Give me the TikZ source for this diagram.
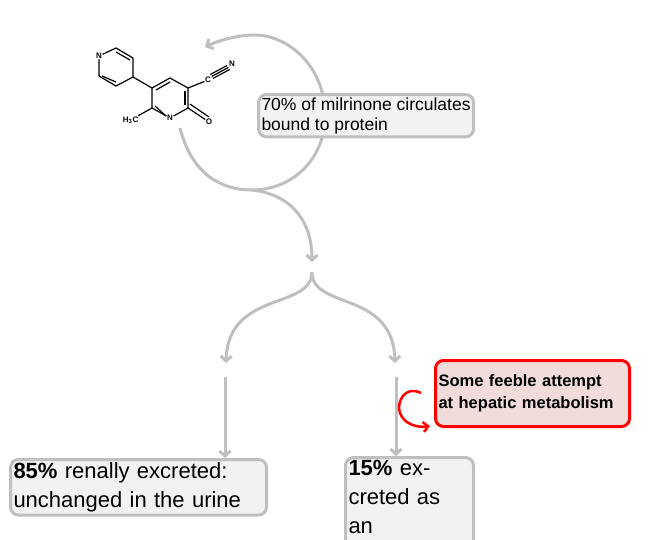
\documentclass[tikz,border=0pt]{standalone}
\usepackage{fontspec}
\setmainfont{Liberation Sans}
\usetikzlibrary{arrows.meta,calc}
\definecolor{lg}{RGB}{191,191,191}
\definecolor{bx}{RGB}{242,242,242}
\definecolor{pk}{RGB}{242,220,219}
\begin{document}
\begin{tikzpicture}[x=1pt,y=-1pt,
  conn/.style={draw=lg,line width=3pt,-{Straight Barb[length=5pt,width=11pt]}},
  gbox/.style={draw=lg,fill=bx,line width=3pt,rounded corners=8pt,align=left,inner sep=3pt,anchor=north west},
  bond/.style={line width=1.2pt},
  atom/.style={inner sep=0.5pt,font=\fontsize{8}{8}\selectfont\bfseries}]
\useasboundingbox (0,0) rectangle (648,539);
% molecule
\coordinate (a1) at (170,78); \coordinate (a2) at (188,88); \coordinate (a3) at (188,108);
\node[atom] (N1) at (170,118) {N}; \coordinate (a6) at (152,108); \coordinate (a5) at (152,88);
\draw[bond] (a5)--(a1)--(a2)--(a3)--(N1)--(a6)--(a5);
\draw[bond] ($(a1)+(0,4)$)--($(a5)+(4,2)$);
\draw[bond] ($(a2)+(-3,3)$)--($(a3)+(-3,-3)$);
\draw[bond] ($(a6)+(3,-2)$)--($(N1)+(-4,-2)$);
\node[atom,anchor=east] (me) at (139,120) {H\textsubscript{3}C};
\draw[bond] (a6)--(me);
\node[atom] (O) at (209,122) {O};
\draw[bond] (a3)--(O); \draw[bond] ($(a3)+(2,-4)$)--($(O)+(0,-5)$);
\node[atom] (C) at (208,80) {C}; \node[atom] (Nc) at (232,64) {N};
\draw[bond] (a2)--(C);
\draw[bond] (C.north east)--(Nc.south west);
\draw[bond] ($(C.north east)+(-1.3,-2)$)--($(Nc.south west)+(-1.3,-2)$);
\draw[bond] ($(C.north east)+(1.3,2)$)--($(Nc.south west)+(1.3,2)$);
\coordinate (p1) at (133,77); \coordinate (p2) at (133,58); \coordinate (p3) at (116,48);
\node[atom] (Np) at (99,56) {N}; \coordinate (p5) at (99,76); \coordinate (p6) at (116,86);
\draw[bond] (p1)--(p2)--(p3)--(Np)--(p5)--(p6)--(p1);
\draw[bond] ($(p2)+(-3,2)$)--($(p3)+(0,4)$);
\draw[bond] ($(p5)+(3,0)$)--($(p6)+(0,-4)$);
\draw[bond] (p1)--(a5);
% arrows
\coordinate (s0) at (180,128); \coordinate (bt) at (252,190); \coordinate (e0) at (205,47);
\draw[conn] (s0) .. controls (192,175) and (222,190) .. (bt) .. controls (295,190) and (328,155) .. (325,110) .. controls (322,62) and (285,35) .. (255,35) .. controls (235,35) and (215,42) .. (e0);
\coordinate (m1) at (312,262); \coordinate (m2) at (312,272);
\draw[conn] (bt) .. controls (295,195) and (312,225) .. (m1);
\coordinate (l1) at (226,363); \coordinate (r1) at (395,363);
\draw[conn] (m2) .. controls (312,310) and (228,290) .. (l1);
\draw[conn] (m2) .. controls (312,310) and (393,290) .. (r1);
% boxes
\node[gbox,font=\fontsize{17.5}{20}\selectfont,minimum width=210pt] (tb) at (257,93) {70\% of milrinone circulates\\bound to protein};
\node[gbox,font=\fontsize{22}{29}\selectfont,text width=250pt] (lb) at (9,458) {\textbf{85\%} renally excreted:\\unchanged in the urine};
\node[gbox,font=\fontsize{22}{29}\selectfont,text width=122pt] (rb) at (344,456) {\textbf{15\%} excreted as an\\\hspace{4pt}inactive o-glucouronide};
\node[gbox,draw=red,fill=pk,font=\fontsize{16.5}{22}\selectfont\bfseries,text width=188pt,minimum height=66pt] (hb) at (434,359) {Some feeble attempt\\at hepatic metabolism};
\coordinate (l2) at (225,377); \coordinate (r2) at (396,377);
\draw[conn] (l2) -- (lb.north -| l2);
\draw[conn] (r2) -- (rb.north -| r2);
\coordinate (c1) at (421,393); \coordinate (c2) at (430,426);
\draw[red,line width=2.5pt,-{Straight Barb[length=5pt,width=10pt]}] (c1) .. controls (405,385) and (396,402) .. (400,413) .. controls (404,424) and (417,428) .. (c2);
\end{tikzpicture}
\end{document}
